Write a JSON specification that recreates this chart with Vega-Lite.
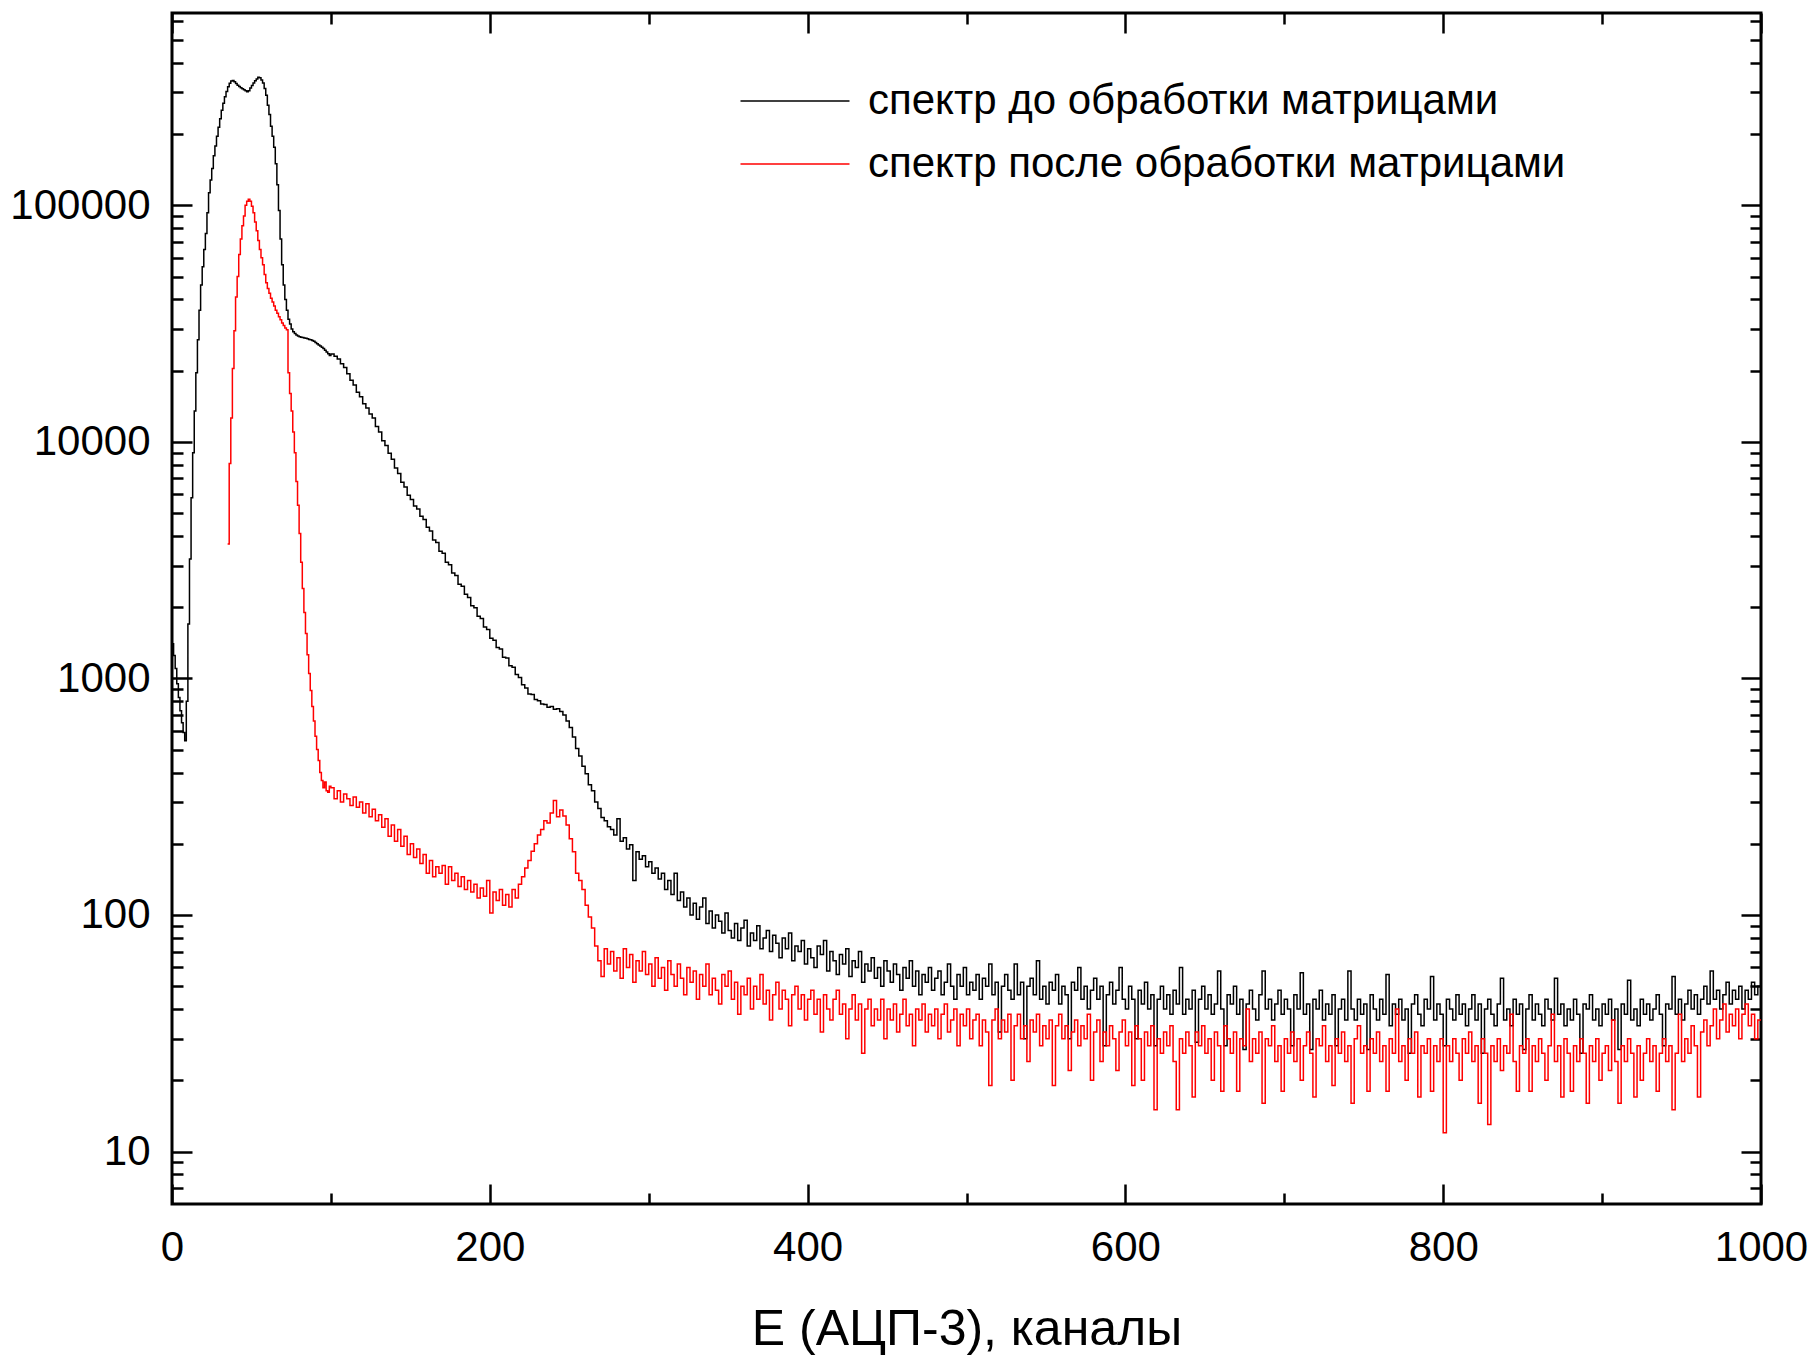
{
"$schema": "https://vega.github.io/schema/vega-lite/v6.json",
"width": 1589, "height": 1191,
"autosize": {"type": "none"},
"padding": {"left": 172, "top": 13, "right": 51, "bottom": 151},
"background": "white",
"config": {"view": {"stroke": "#000", "strokeWidth": 3}, "font": "Liberation Sans"},
"data": {"values": [
{"c":0,"b":1400},{"c":1,"b":1250},{"c":2,"b":1100},{"c":3,"b":950},{"c":4,"b":830},{"c":5,"b":730},{"c":6,"b":650},{"c":7,"b":590},{"c":8,"b":545},{"c":9,"b":800},
{"c":10,"b":1700},{"c":11,"b":3200},{"c":12,"b":5800},{"c":13,"b":9000},{"c":14,"b":13500},{"c":15,"b":19600},{"c":16,"b":27000},{"c":17,"b":36000},{"c":18,"b":46000},{"c":19,"b":55000},
{"c":20,"b":65000},{"c":21,"b":76000},{"c":22,"b":93000},{"c":23,"b":113000},{"c":24,"b":128000},{"c":25,"b":143000},{"c":26,"b":162000},{"c":27,"b":178000},{"c":28,"b":196000},{"c":29,"b":214000},
{"c":30,"b":232000},{"c":31,"b":252000},{"c":32,"b":270000},{"c":33,"b":288000},{"c":34,"b":303000},{"c":35,"b":317000,"r":3700},{"c":36,"b":328000,"r":8100},{"c":37,"b":335000,"r":12600},{"c":38,"b":337000,"r":20400},{"c":39,"b":333000,"r":29500},
{"c":40,"b":327000,"r":41000},{"c":41,"b":322000,"r":50000},{"c":42,"b":318000,"r":62000},{"c":43,"b":314000,"r":72000},{"c":44,"b":311000,"r":82000},{"c":45,"b":308000,"r":90000},{"c":46,"b":305000,"r":100000},{"c":47,"b":302000,"r":104000},{"c":48,"b":305000,"r":106000},{"c":49,"b":313000,"r":104000},
{"c":50,"b":321000,"r":99000},{"c":51,"b":329000,"r":93000},{"c":52,"b":336000,"r":85000},{"c":53,"b":342000,"r":78000},{"c":54,"b":348000,"r":71000},{"c":55,"b":346000,"r":65000},{"c":56,"b":339000,"r":60000},{"c":57,"b":329000,"r":56000},{"c":58,"b":312000,"r":51000},{"c":59,"b":292000,"r":47000},
{"c":60,"b":265000,"r":44500},{"c":61,"b":242000,"r":42500},{"c":62,"b":216000,"r":40500},{"c":63,"b":196000,"r":39000},{"c":64,"b":176000,"r":37500},{"c":65,"b":150000,"r":36000},{"c":66,"b":122000,"r":35000},{"c":67,"b":95000,"r":33800},{"c":68,"b":72000,"r":32800},{"c":69,"b":56000,"r":31800},
{"c":70,"b":46000,"r":31000},{"c":71,"b":40000,"r":30300},{"c":72,"b":36000,"r":29800},{"c":73,"b":33000,"r":19600},{"c":74,"b":31500,"r":16000},{"c":75,"b":30000,"r":13500},{"c":76,"b":29200,"r":11000},{"c":77,"b":28700,"r":9000},{"c":78,"b":28300,"r":6800},{"c":79,"b":28000,"r":5400},
{"c":80,"b":27800,"r":4100},{"c":81,"b":27700,"r":3100},{"c":82,"b":27600,"r":2400},{"c":83,"b":27500,"r":1900},{"c":84,"b":27400,"r":1550},{"c":85,"b":27300,"r":1260},{"c":86,"b":27100,"r":1050},{"c":87,"b":27000,"r":890},{"c":88,"b":26800,"r":760},{"c":89,"b":26600,"r":660},
{"c":90,"b":26300,"r":570},{"c":91,"b":26000,"r":500},{"c":92,"b":25700,"r":450},{"c":93,"b":25400,"r":400},{"c":94,"b":25100,"r":370},{"c":95,"b":24800,"r":345},{"c":96,"b":24400,"r":365},{"c":97,"b":24000,"r":335},{"c":98,"b":23600,"r":330},{"c":99,"b":23200,"r":350},
{"c":100,"b":23500,"r":345},{"c":102,"b":23000,"r":310},{"c":104,"b":22400,"r":335},{"c":106,"b":21400,"r":300},{"c":108,"b":20600,"r":325},{"c":110,"b":19400,"r":310},{"c":112,"b":18200,"r":290},{"c":114,"b":17400,"r":315},{"c":116,"b":16200,"r":285},{"c":118,"b":15500,"r":300},
{"c":120,"b":14500,"r":270},{"c":122,"b":13900,"r":295},{"c":124,"b":13100,"r":260},{"c":126,"b":12600,"r":280},{"c":128,"b":11600,"r":250},{"c":130,"b":11000,"r":265},{"c":132,"b":10100,"r":235},{"c":134,"b":9650,"r":255},{"c":136,"b":8950,"r":215},{"c":138,"b":8450,"r":240},
{"c":140,"b":7750,"r":205},{"c":142,"b":7350,"r":230},{"c":144,"b":6750,"r":195},{"c":146,"b":6450,"r":215},{"c":148,"b":5950,"r":180},{"c":150,"b":5700,"r":200},{"c":152,"b":5350,"r":175},{"c":154,"b":5200,"r":190},{"c":156,"b":4850,"r":165},{"c":158,"b":4700,"r":180},
{"c":160,"b":4350,"r":150},{"c":162,"b":4200,"r":170},{"c":164,"b":3850,"r":145},{"c":166,"b":3750,"r":160},{"c":168,"b":3450,"r":150},{"c":170,"b":3380,"r":162},{"c":172,"b":3100,"r":135},{"c":174,"b":3020,"r":160},{"c":176,"b":2790,"r":140},{"c":178,"b":2720,"r":150},
{"c":180,"b":2500,"r":132},{"c":182,"b":2450,"r":145},{"c":184,"b":2270,"r":128},{"c":186,"b":2200,"r":140},{"c":188,"b":2030,"r":125},{"c":190,"b":1990,"r":135},{"c":192,"b":1830,"r":118},{"c":194,"b":1790,"r":130},{"c":196,"b":1650,"r":120},{"c":198,"b":1610,"r":140},
{"c":200,"b":1480,"r":102},{"c":202,"b":1450,"r":125},{"c":204,"b":1350,"r":115},{"c":206,"b":1330,"r":128},{"c":208,"b":1230,"r":110},{"c":210,"b":1220,"r":122},{"c":212,"b":1130,"r":108},{"c":214,"b":1115,"r":128},{"c":216,"b":1040,"r":118},{"c":218,"b":1010,"r":135},
{"c":220,"b":940,"r":145},{"c":222,"b":910,"r":158},{"c":224,"b":860,"r":170},{"c":226,"b":855,"r":186},{"c":228,"b":815,"r":200},{"c":230,"b":805,"r":218},{"c":232,"b":780,"r":230},{"c":234,"b":775,"r":250},{"c":236,"b":755,"r":245},{"c":238,"b":760,"r":270},
{"c":240,"b":740,"r":305},{"c":242,"b":745,"r":260},{"c":244,"b":725,"r":278},{"c":246,"b":700,"r":262},{"c":248,"b":660,"r":240},{"c":250,"b":620,"r":210},{"c":252,"b":565,"r":185},{"c":254,"b":505,"r":150},{"c":256,"b":470,"r":140},{"c":258,"b":425,"r":128},
{"c":260,"b":395,"r":110},{"c":262,"b":355,"r":98},{"c":264,"b":335,"r":88},{"c":266,"b":300,"r":74},{"c":268,"b":282,"r":64},{"c":270,"b":258,"r":55},{"c":272,"b":250,"r":72},{"c":274,"b":236,"r":62},{"c":276,"b":230,"r":70},{"c":278,"b":218,"r":58},
{"c":280,"b":255,"r":66},{"c":282,"b":205,"r":54},{"c":284,"b":212,"r":72},{"c":286,"b":190,"r":60},{"c":288,"b":198,"r":68},{"c":290,"b":140,"r":52},{"c":292,"b":185,"r":64},{"c":294,"b":172,"r":58},{"c":296,"b":178,"r":70},{"c":298,"b":160,"r":56},
{"c":300,"b":168,"r":62},{"c":302,"b":150,"r":50},{"c":304,"b":158,"r":66},{"c":306,"b":142,"r":54},{"c":308,"b":150,"r":60},{"c":310,"b":128,"r":48},{"c":312,"b":140,"r":64},{"c":314,"b":122,"r":56},{"c":316,"b":150,"r":50},{"c":318,"b":115,"r":62},
{"c":320,"b":125,"r":54},{"c":322,"b":108,"r":46},{"c":324,"b":118,"r":60},{"c":326,"b":100,"r":52},{"c":328,"b":112,"r":58},{"c":330,"b":96,"r":44},{"c":332,"b":108,"r":56},{"c":334,"b":118,"r":50},{"c":336,"b":92,"r":62},{"c":338,"b":104,"r":46},
{"c":340,"b":88,"r":54},{"c":342,"b":100,"r":48},{"c":344,"b":94,"r":42},{"c":346,"b":84,"r":56},{"c":348,"b":102,"r":50},{"c":350,"b":86,"r":58},{"c":352,"b":80,"r":44},{"c":354,"b":92,"r":52},{"c":356,"b":78,"r":38},{"c":358,"b":88,"r":50},
{"c":360,"b":95,"r":46},{"c":362,"b":74,"r":54},{"c":364,"b":84,"r":40},{"c":366,"b":78,"r":50},{"c":368,"b":90,"r":44},{"c":370,"b":72,"r":56},{"c":372,"b":80,"r":42},{"c":374,"b":86,"r":48},{"c":376,"b":70,"r":36},{"c":378,"b":82,"r":46},
{"c":380,"b":76,"r":52},{"c":382,"b":66,"r":40},{"c":384,"b":80,"r":48},{"c":386,"b":72,"r":44},{"c":388,"b":84,"r":34},{"c":390,"b":64,"r":46},{"c":392,"b":74,"r":50},{"c":394,"b":70,"r":40},{"c":396,"b":78,"r":46},{"c":398,"b":62,"r":36},
{"c":400,"b":72,"r":44},{"c":402,"b":66,"r":48},{"c":404,"b":60,"r":38},{"c":406,"b":74,"r":44},{"c":408,"b":68,"r":32},{"c":410,"b":78,"r":46},{"c":412,"b":58,"r":40},{"c":414,"b":70,"r":36},{"c":416,"b":64,"r":44},{"c":418,"b":56,"r":48},
{"c":420,"b":68,"r":38},{"c":422,"b":62,"r":42},{"c":424,"b":72,"r":30},{"c":426,"b":55,"r":40},{"c":428,"b":64,"r":46},{"c":430,"b":60,"r":36},{"c":432,"b":70,"r":42},{"c":434,"b":52,"r":26},{"c":436,"b":62,"r":40},{"c":438,"b":58,"r":44},
{"c":440,"b":66,"r":34},{"c":442,"b":54,"r":40},{"c":444,"b":60,"r":36},{"c":446,"b":50,"r":44},{"c":448,"b":64,"r":30},{"c":450,"b":58,"r":40},{"c":452,"b":52,"r":36},{"c":454,"b":62,"r":42},{"c":456,"b":56,"r":32},{"c":458,"b":48,"r":38},
{"c":460,"b":60,"r":44},{"c":462,"b":54,"r":34},{"c":464,"b":64,"r":38},{"c":466,"b":50,"r":28},{"c":468,"b":58,"r":40},{"c":470,"b":46,"r":36},{"c":472,"b":56,"r":42},{"c":474,"b":52,"r":32},{"c":476,"b":60,"r":38},{"c":478,"b":48,"r":34},
{"c":480,"b":54,"r":40},{"c":482,"b":58,"r":30},{"c":484,"b":46,"r":38},{"c":486,"b":52,"r":42},{"c":488,"b":62,"r":32},{"c":490,"b":50,"r":36},{"c":492,"b":44,"r":40},{"c":494,"b":56,"r":28},{"c":496,"b":50,"r":38},{"c":498,"b":60,"r":34},
{"c":500,"b":46,"r":40},{"c":502,"b":52,"r":30},{"c":504,"b":48,"r":36},{"c":506,"b":56,"r":38},{"c":508,"b":44,"r":28},{"c":510,"b":54,"r":36},{"c":512,"b":50,"r":32},{"c":514,"b":62,"r":19},{"c":516,"b":46,"r":36},{"c":518,"b":52,"r":40},
{"c":520,"b":32,"r":30},{"c":522,"b":50,"r":36},{"c":524,"b":56,"r":32},{"c":526,"b":48,"r":38},{"c":528,"b":44,"r":20},{"c":530,"b":62,"r":34},{"c":532,"b":46,"r":38},{"c":534,"b":52,"r":30},{"c":536,"b":30,"r":34},{"c":538,"b":50,"r":24},
{"c":540,"b":54,"r":36},{"c":542,"b":46,"r":32},{"c":544,"b":64,"r":38},{"c":546,"b":44,"r":28},{"c":548,"b":50,"r":34},{"c":550,"b":42,"r":30},{"c":552,"b":52,"r":36},{"c":554,"b":48,"r":19},{"c":556,"b":56,"r":34},{"c":558,"b":42,"r":38},
{"c":560,"b":50,"r":30},{"c":562,"b":46,"r":34},{"c":564,"b":30,"r":22},{"c":566,"b":52,"r":32},{"c":568,"b":48,"r":36},{"c":570,"b":60,"r":28},{"c":572,"b":44,"r":34},{"c":574,"b":50,"r":30},{"c":576,"b":40,"r":38},{"c":578,"b":48,"r":20},
{"c":580,"b":54,"r":32},{"c":582,"b":44,"r":36},{"c":584,"b":50,"r":24},{"c":586,"b":28,"r":32},{"c":588,"b":46,"r":28},{"c":590,"b":52,"r":34},{"c":592,"b":42,"r":30},{"c":594,"b":48,"r":22},{"c":596,"b":60,"r":32},{"c":598,"b":44,"r":36},
{"c":600,"b":40,"r":28},{"c":602,"b":50,"r":32},{"c":604,"b":44,"r":19},{"c":606,"b":30,"r":34},{"c":608,"b":48,"r":30},{"c":610,"b":42,"r":20},{"c":612,"b":52,"r":32},{"c":614,"b":40,"r":28},{"c":616,"b":46,"r":34},{"c":618,"b":28,"r":15},
{"c":620,"b":44,"r":30},{"c":622,"b":50,"r":26},{"c":624,"b":40,"r":32},{"c":626,"b":46,"r":28},{"c":628,"b":38,"r":34},{"c":630,"b":48,"r":24},{"c":632,"b":42,"r":15},{"c":634,"b":60,"r":30},{"c":636,"b":38,"r":26},{"c":638,"b":44,"r":32},
{"c":640,"b":40,"r":28},{"c":642,"b":48,"r":17},{"c":644,"b":29,"r":32},{"c":646,"b":44,"r":28},{"c":648,"b":50,"r":34},{"c":650,"b":40,"r":26},{"c":652,"b":46,"r":30},{"c":654,"b":38,"r":20},{"c":656,"b":42,"r":32},{"c":658,"b":58,"r":28},
{"c":660,"b":40,"r":18},{"c":662,"b":28,"r":34},{"c":664,"b":46,"r":30},{"c":666,"b":42,"r":26},{"c":668,"b":50,"r":32},{"c":670,"b":38,"r":18},{"c":672,"b":44,"r":30},{"c":674,"b":27,"r":28},{"c":676,"b":42,"r":40},{"c":678,"b":48,"r":24},
{"c":680,"b":40,"r":30},{"c":682,"b":36,"r":26},{"c":684,"b":46,"r":32},{"c":686,"b":58,"r":16},{"c":688,"b":40,"r":30},{"c":690,"b":44,"r":28},{"c":692,"b":36,"r":34},{"c":694,"b":42,"r":24},{"c":696,"b":48,"r":28},{"c":698,"b":38,"r":18},
{"c":700,"b":44,"r":30},{"c":702,"b":40,"r":26},{"c":704,"b":28,"r":32},{"c":706,"b":46,"r":24},{"c":708,"b":40,"r":30},{"c":710,"b":57,"r":20},{"c":712,"b":38,"r":28},{"c":714,"b":42,"r":32},{"c":716,"b":27,"r":26},{"c":718,"b":44,"r":17},
{"c":720,"b":40,"r":30},{"c":722,"b":48,"r":28},{"c":724,"b":36,"r":34},{"c":726,"b":42,"r":24},{"c":728,"b":38,"r":28},{"c":730,"b":46,"r":19},{"c":732,"b":28,"r":30},{"c":734,"b":40,"r":26},{"c":736,"b":44,"r":32},{"c":738,"b":36,"r":24},
{"c":740,"b":58,"r":28},{"c":742,"b":40,"r":16},{"c":744,"b":36,"r":30},{"c":746,"b":44,"r":34},{"c":748,"b":38,"r":26},{"c":750,"b":42,"r":28},{"c":752,"b":27,"r":18},{"c":754,"b":46,"r":30},{"c":756,"b":40,"r":26},{"c":758,"b":36,"r":32},
{"c":760,"b":44,"r":24},{"c":762,"b":38,"r":28},{"c":764,"b":56,"r":18},{"c":766,"b":34,"r":30},{"c":768,"b":42,"r":26},{"c":770,"b":38,"r":40},{"c":772,"b":44,"r":24},{"c":774,"b":36,"r":28},{"c":776,"b":40,"r":20},{"c":778,"b":26,"r":30},
{"c":780,"b":42,"r":26},{"c":782,"b":46,"r":32},{"c":784,"b":38,"r":17},{"c":786,"b":34,"r":28},{"c":788,"b":44,"r":26},{"c":790,"b":40,"r":30},{"c":792,"b":55,"r":18},{"c":794,"b":36,"r":28},{"c":796,"b":42,"r":24},{"c":798,"b":38,"r":30},
{"c":800,"b":28,"r":12},{"c":802,"b":44,"r":28},{"c":804,"b":40,"r":24},{"c":806,"b":36,"r":30},{"c":808,"b":46,"r":26},{"c":810,"b":38,"r":20},{"c":812,"b":42,"r":30},{"c":814,"b":34,"r":26},{"c":816,"b":40,"r":32},{"c":818,"b":46,"r":24},
{"c":820,"b":36,"r":28},{"c":822,"b":42,"r":16},{"c":824,"b":26,"r":30},{"c":826,"b":40,"r":26},{"c":828,"b":44,"r":13},{"c":830,"b":38,"r":28},{"c":832,"b":34,"r":24},{"c":834,"b":42,"r":30},{"c":836,"b":54,"r":22},{"c":838,"b":36,"r":28},
{"c":840,"b":40,"r":26},{"c":842,"b":34,"r":38},{"c":844,"b":44,"r":24},{"c":846,"b":38,"r":18},{"c":848,"b":42,"r":28},{"c":850,"b":27,"r":26},{"c":852,"b":40,"r":30},{"c":854,"b":46,"r":18},{"c":856,"b":36,"r":28},{"c":858,"b":42,"r":24},
{"c":860,"b":38,"r":30},{"c":862,"b":34,"r":26},{"c":864,"b":44,"r":20},{"c":866,"b":40,"r":28},{"c":868,"b":36,"r":38},{"c":870,"b":54,"r":24},{"c":872,"b":38,"r":28},{"c":874,"b":42,"r":17},{"c":876,"b":34,"r":30},{"c":878,"b":40,"r":26},
{"c":880,"b":36,"r":18},{"c":882,"b":44,"r":28},{"c":884,"b":38,"r":24},{"c":886,"b":26,"r":30},{"c":888,"b":42,"r":26},{"c":890,"b":40,"r":16},{"c":892,"b":46,"r":28},{"c":894,"b":36,"r":24},{"c":896,"b":40,"r":30},{"c":898,"b":34,"r":20},
{"c":900,"b":42,"r":26},{"c":902,"b":38,"r":28},{"c":904,"b":44,"r":22},{"c":906,"b":36,"r":36},{"c":908,"b":40,"r":24},{"c":910,"b":27,"r":16},{"c":912,"b":42,"r":28},{"c":914,"b":38,"r":24},{"c":916,"b":53,"r":30},{"c":918,"b":36,"r":26},
{"c":920,"b":40,"r":17},{"c":922,"b":34,"r":28},{"c":924,"b":44,"r":20},{"c":926,"b":38,"r":26},{"c":928,"b":42,"r":30},{"c":930,"b":36,"r":24},{"c":932,"b":40,"r":28},{"c":934,"b":46,"r":18},{"c":936,"b":38,"r":26},{"c":938,"b":28,"r":30},
{"c":940,"b":42,"r":24},{"c":942,"b":40,"r":28},{"c":944,"b":55,"r":15},{"c":946,"b":38,"r":26},{"c":948,"b":44,"r":38},{"c":950,"b":36,"r":24},{"c":952,"b":42,"r":30},{"c":954,"b":48,"r":26},{"c":956,"b":40,"r":34},{"c":958,"b":46,"r":28},
{"c":960,"b":38,"r":17},{"c":962,"b":44,"r":32},{"c":964,"b":50,"r":36},{"c":966,"b":42,"r":28},{"c":968,"b":58,"r":34},{"c":970,"b":44,"r":40},{"c":972,"b":48,"r":30},{"c":974,"b":40,"r":36},{"c":976,"b":46,"r":42},{"c":978,"b":52,"r":32},
{"c":980,"b":42,"r":38},{"c":982,"b":48,"r":34},{"c":984,"b":44,"r":40},{"c":986,"b":50,"r":30},{"c":988,"b":40,"r":38},{"c":990,"b":48,"r":42},{"c":992,"b":44,"r":34},{"c":994,"b":52,"r":38},{"c":996,"b":46,"r":30},{"c":998,"b":50,"r":36},
{"c":1000,"b":50,"r":36}
]},
"transform": [{"fold": ["b", "r"], "as": ["s", "v"]}, {"filter": "isValid(datum.v) && datum.v > 0"}],
"layer": [
{
"mark": {"type": "line", "interpolate": "step-after", "strokeWidth": 1.5, "clip": true},
"encoding": {
"x": {"field": "c", "type": "quantitative", "scale": {"domain": [0, 1000], "nice": false, "zero": false},
"axis": {"orient": "bottom", "values": [0,100,200,300,400,500,600,700,800,900,1000], "format": "d", "grid": false, "domain": false,
"tickColor": "#000", "tickWidth": 2.5, "tickSize": {"condition": {"test": "datum.value % 200 == 0", "value": -20}, "value": -11},
"labelExpr": "datum.value % 200 == 0 ? datum.label : ''", "labelFont": "Liberation Sans", "labelFontSize": 42, "labelColor": "#000", "labelPadding": 43, "labelFlush": false, "labelOverlap": false,
"title": "E (АЦП-3), каналы", "titleFont": "Liberation Sans", "titleFontSize": 50, "titleFontWeight": "normal", "titleColor": "#000", "titlePadding": 27}},
"y": {"field": "v", "type": "quantitative", "scale": {"type": "log", "domain": [6, 650000], "nice": false},
"axis": {"orient": "left", "values": [7,8,9,10,20,30,40,50,60,70,80,90,100,200,300,400,500,600,700,800,900,1000,2000,3000,4000,5000,6000,7000,8000,9000,10000,20000,30000,40000,50000,60000,70000,80000,90000,100000,200000,300000,400000,500000,600000],
"format": "d", "grid": false, "domain": false, "tickColor": "#000", "tickWidth": 2.5,
"tickSize": {"condition": {"test": "abs(log(datum.value)/LN10 - round(log(datum.value)/LN10)) < 0.000001", "value": -20}, "value": -11},
"labelExpr": "abs(log(datum.value)/LN10 - round(log(datum.value)/LN10)) < 0.000001 ? format(datum.value, 'd') : ''",
"labelFont": "Liberation Sans", "labelFontSize": 42, "labelColor": "#000", "labelPadding": 42, "labelOverlap": false, "labelFlush": false, "title": null}},
"color": {"field": "s", "type": "nominal", "scale": {"domain": ["b", "r"], "range": ["#000000", "#ff0000"]},
"legend": {"orient": "none", "legendX": 595, "legendY": 60, "title": null, "symbolType": "M-2,0H2", "symbolSize": 2970, "symbolStrokeWidth": 1.5, "symbolFillColor": "transparent",
"labelFont": "Liberation Sans", "labelFontSize": 42, "labelColor": "#000", "labelOffset": 45, "rowPadding": 14, "padding": 0, "labelLimit": 1000,
"labelExpr": "datum.value == 'b' ? 'спектр до обработки матрицами' : 'спектр после обработки матрицами'"}}
}
},
{
"mark": {"type": "line", "opacity": 0},
"encoding": {
"x": {"field": "c", "type": "quantitative", "scale": {"domain": [0, 1000], "nice": false, "zero": false},
"axis": {"orient": "top", "values": [0,100,200,300,400,500,600,700,800,900,1000], "labels": false, "grid": false, "domain": false, "title": null,
"tickColor": "#000", "tickWidth": 2.5, "tickSize": {"condition": {"test": "datum.value % 200 == 0", "value": -20}, "value": -11}}},
"y": {"field": "v", "type": "quantitative", "scale": {"type": "log", "domain": [6, 650000], "nice": false},
"axis": {"orient": "right", "values": [7,8,9,10,20,30,40,50,60,70,80,90,100,200,300,400,500,600,700,800,900,1000,2000,3000,4000,5000,6000,7000,8000,9000,10000,20000,30000,40000,50000,60000,70000,80000,90000,100000,200000,300000,400000,500000,600000],
"labels": false, "grid": false, "domain": false, "title": null, "tickColor": "#000", "tickWidth": 2.5,
"tickSize": {"condition": {"test": "abs(log(datum.value)/LN10 - round(log(datum.value)/LN10)) < 0.000001", "value": -20}, "value": -11}}},
"detail": {"field": "s"}
}
}
],
"resolve": {"axis": {"x": "independent", "y": "independent"}}
}
